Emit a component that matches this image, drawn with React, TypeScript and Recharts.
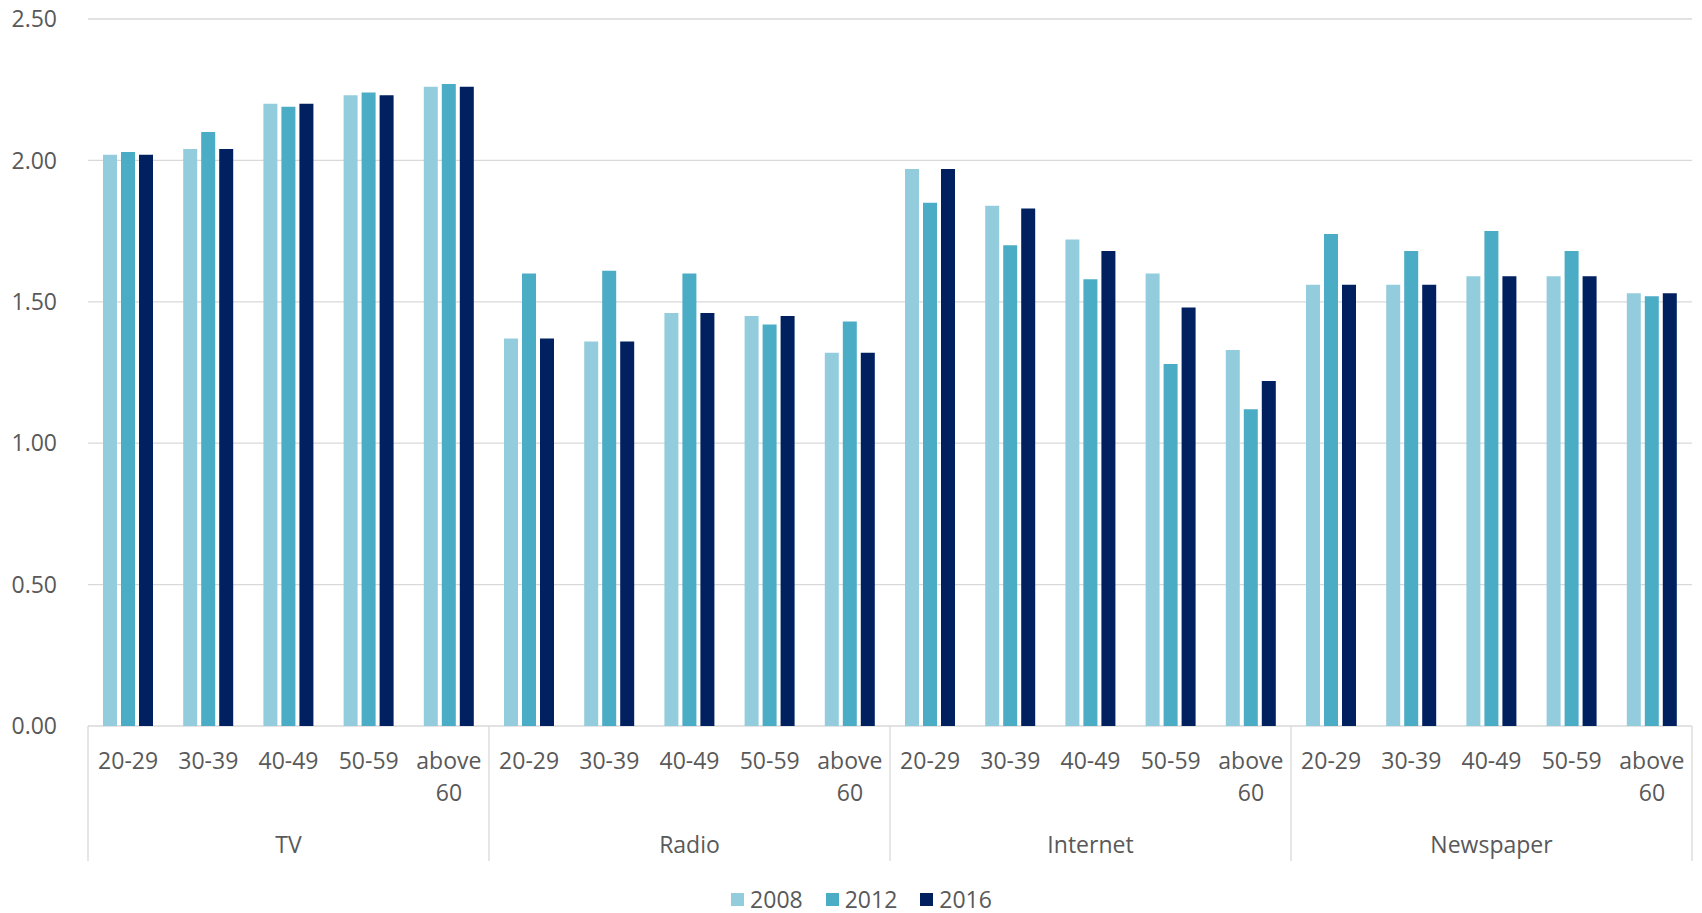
import { Bar, BarChart, CartesianGrid, Legend, XAxis, YAxis } from 'recharts';

const media = ['TV', 'Radio', 'Internet', 'Newspaper'];
const ageGroups = ['20-29', '30-39', '40-49', '50-59', 'above 60'];

// values run medium by medium, five age groups each
const values2008 = [2.02, 2.04, 2.2, 2.23, 2.26, 1.37, 1.36, 1.46, 1.45, 1.32, 1.97, 1.84, 1.72, 1.6, 1.33, 1.56, 1.56, 1.59, 1.59, 1.53];
const values2012 = [2.03, 2.1, 2.19, 2.24, 2.27, 1.6, 1.61, 1.6, 1.42, 1.43, 1.85, 1.7, 1.58, 1.28, 1.12, 1.74, 1.68, 1.75, 1.68, 1.52];
const values2016 = [2.02, 2.04, 2.2, 2.23, 2.26, 1.37, 1.36, 1.46, 1.45, 1.32, 1.97, 1.83, 1.68, 1.48, 1.22, 1.56, 1.56, 1.59, 1.59, 1.53];

const yTicks = [0, 0.5, 1, 1.5, 2, 2.5];

const series = [
  { key: 'y2008', name: '2008', color: '#93cddd', values: values2008 },
  { key: 'y2012', name: '2012', color: '#4bacc6', values: values2012 },
  { key: 'y2016', name: '2016', color: '#002060', values: values2016 },
];

const data = media.flatMap((medium, m) =>
  ageGroups.map((age, a) => {
    const i = m * ageGroups.length + a;
    const row: Record<string, string | number> = { id: `${medium}|${age}` };
    series.forEach((s) => {
      row[s.key] = s.values[i];
    });
    return row;
  }),
);

const WIDTH = 1702;
const HEIGHT = 913;
const MARGIN = { top: 19, right: 10, left: 0, bottom: 0 };
const Y_AXIS_WIDTH = 88;
const BAND = (WIDTH - MARGIN.right - Y_AXIS_WIDTH) / data.length;

const FONT = "'Open Sans', sans-serif";
const TEXT = '#595959';
const GRID = '#d9d9d9';

function CategoryTick(props: any) {
  const { x, y, payload } = props;
  const half = payload?.offset ?? BAND / 2;
  const [medium, age] = String(payload.value).split('|');
  const pos = ageGroups.indexOf(age);
  const lines = age === 'above 60' ? ['above', '60'] : [age];
  const lastMedium = medium === media[media.length - 1];
  const textProps = { textAnchor: 'middle' as const, fill: TEXT, fontSize: 23, fontFamily: FONT, dy: '0.35em' };

  return (
    <g>
      {lines.map((line, i) => (
        <text key={line} x={x} y={y + 34.5 + i * 32.5} {...textProps}>
          {line}
        </text>
      ))}
      {pos === 2 && (
        <text x={x} y={y + 119} {...textProps}>
          {medium}
        </text>
      )}
      {pos === 0 && <line x1={x - half} x2={x - half} y1={y} y2={y + 135} stroke={GRID} strokeWidth={1.3} />}
      {pos === ageGroups.length - 1 && lastMedium && (
        <line x1={x + half} x2={x + half} y1={y} y2={y + 135} stroke={GRID} strokeWidth={1.3} />
      )}
    </g>
  );
}

function YearLegend() {
  return (
    <div
      style={{
        height: 28,
        display: 'flex',
        justifyContent: 'center',
        alignItems: 'center',
        paddingLeft: 31,
        fontFamily: FONT,
        fontSize: 23,
        color: TEXT,
      }}
    >
      {series.map((s, i) => (
        <div key={s.key} style={{ display: 'flex', alignItems: 'center', marginLeft: i === 0 ? 0 : 23 }}>
          <span style={{ width: 13, height: 13, background: s.color, marginRight: 6, display: 'inline-block' }} />
          <span>{s.name}</span>
        </div>
      ))}
    </div>
  );
}

export default function App() {
  return (
    <div style={{ position: 'absolute', left: 0, top: 0, width: WIDTH, height: HEIGHT, background: '#fff' }}>
      <BarChart width={WIDTH} height={HEIGHT} data={data} margin={MARGIN} barSize={14} barGap={4}>
        <CartesianGrid vertical={false} stroke={GRID} strokeWidth={1.3} />
        <XAxis
          dataKey="id"
          interval={0}
          tickLine={false}
          axisLine={false}
          tickSize={0}
          tickMargin={0}
          height={159}
          tick={<CategoryTick />}
        />
        <YAxis
          width={Y_AXIS_WIDTH}
          domain={[0, 2.5]}
          ticks={yTicks}
          tickFormatter={(v: number) => v.toFixed(2)}
          tickLine={false}
          axisLine={false}
          tickMargin={25}
          tick={{ fill: TEXT, fontSize: 23, fontFamily: FONT }}
        />
        <Legend verticalAlign="bottom" height={28} content={() => <YearLegend />} />
        {series.map((s) => (
          <Bar key={s.key} dataKey={s.key} name={s.name} fill={s.color} isAnimationActive={false} />
        ))}
      </BarChart>
    </div>
  );
}
